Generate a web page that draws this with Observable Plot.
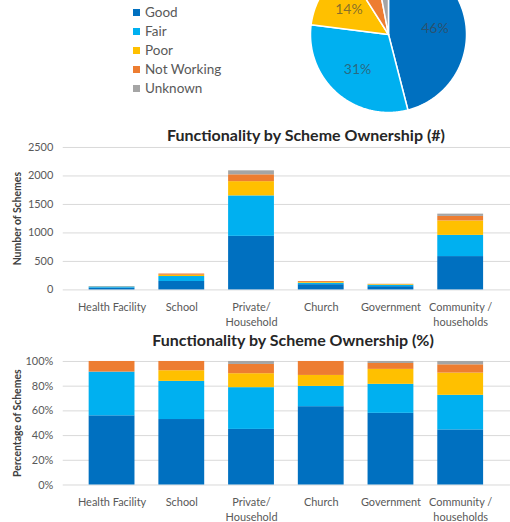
<!DOCTYPE html>
<html>
<head>
<meta charset="utf-8">
<script src="https://cdn.jsdelivr.net/npm/d3@7"></script>
<script src="https://cdn.jsdelivr.net/npm/@observablehq/plot@0.6"></script>
<style>
  html, body { margin: 0; padding: 0; background: #fff; }
  body { width: 510px; height: 522px; overflow: hidden; position: relative; font-family: Lato, "Open Sans", sans-serif; }
  .abs { position: absolute; }
  .title { position: absolute; white-space: nowrap; font-weight: bold; font-size: 16px; line-height: 18px; color: #262626; transform: translateX(-50%); }
  .legend-row { display: flex; align-items: center; height: 19px; font-size: 13.5px; color: #595959; }
  .swatch { width: 7px; height: 7px; margin-right: 5px; }
</style>
</head>
<body>
<div id="legend" class="abs" style="left:133px; top:2.5px;"></div>
<div id="pie" class="abs" style="left:303px; top:-51px;"></div>
<div class="title" style="left:306px; top:126px;">Functionality by Scheme Ownership (#)</div>
<div id="bar1" class="abs" style="left:0; top:140px;"></div>
<div class="title" style="left:293px; top:331px;">Functionality by Scheme Ownership (%)</div>
<div id="bar2" class="abs" style="left:0; top:355px;"></div>
<script>
// ---------- data ----------
const owners = ["Health Facility", "School", "Private/\nHousehold", "Church", "Government", "Community /\nhouseholds"];
const statuses = ["Good", "Fair", "Poor", "Not Working", "Unknown"];
const statusColors = ["#0070c0", "#00b0f0", "#ffc000", "#ed7d31", "#a5a5a5"];

// counts (#)
const countGood       = [32, 148, 940, 92, 57, 585];
const countFair       = [20,  87, 710, 25, 23, 372];
const countPoor       = [ 0,  22, 250, 13, 12, 253];
const countNotWorking = [ 5,  22, 120, 16,  5,  80];
const countUnknown    = [ 0,   0,  70,  0,  2,  40];

// percentages (%)
const pctGood       = [56.0, 53.0, 45.0, 63.4, 58.0, 44.6];
const pctFair       = [35.4, 30.9, 33.8, 16.4, 23.5, 28.0];
const pctPoor       = [ 0.0,  8.6, 11.3,  8.9, 12.1, 18.0];
const pctNotWorking = [ 8.6,  7.5,  7.5, 11.3,  4.8,  6.7];
const pctUnknown    = [ 0.0,  0.0,  2.4,  0.0,  1.6,  2.7];

// overall pie
const pieShare  = [46, 31, 14, 6, 3];
const pieLabels = ["46%", "31%", "14%", "", ""];

const countTicks = [0, 500, 1000, 1500, 2000, 2500];
const pctTicks = [0, 20, 40, 60, 80, 100];

// ---------- tables ----------
const countCols = [countGood, countFair, countPoor, countNotWorking, countUnknown];
const pctCols = [pctGood, pctFair, pctPoor, pctNotWorking, pctUnknown];
const countRows = owners.flatMap((o, i) => statuses.map((s, j) => ({owner: o, status: s, value: countCols[j][i]})));
const pctRows = owners.flatMap((o, i) => statuses.map((s, j) => ({owner: o, status: s, value: pctCols[j][i]})));

// ---------- legend ----------
const legend = document.getElementById("legend");
statuses.forEach((s, i) => {
  const row = document.createElement("div");
  row.className = "legend-row";
  const sw = document.createElement("div");
  sw.className = "swatch";
  sw.style.background = statusColors[i];
  const t = document.createElement("span");
  t.textContent = s;
  row.appendChild(sw); row.appendChild(t);
  legend.appendChild(row);
});

// ---------- pie ----------
const R = 78;
const arcs = d3.pie().sort(null).value(d => d)(pieShare);
const pieRows = arcs.flatMap((p, i) => {
  const pts = [{status: statuses[i], x: 0, y: 0}];
  const n = Math.max(2, Math.ceil((p.endAngle - p.startAngle) / 0.01));
  for (let k = 0; k <= n; k++) {
    const a = p.startAngle + (p.endAngle - p.startAngle) * k / n;
    pts.push({status: statuses[i], x: R * Math.sin(a), y: -R * Math.cos(a)});
  }
  pts.push({status: statuses[i], x: 0, y: 0});
  return pts;
});
const labelRows = arcs.map((p, i) => {
  const m = (p.startAngle + p.endAngle) / 2;
  return {text: pieLabels[i], x: 0.6 * R * Math.sin(m), y: -0.6 * R * Math.cos(m)};
}).filter(d => d.text);

document.getElementById("pie").appendChild(Plot.plot({
  width: 170, height: 170, margin: 0,
  style: {fontFamily: "Lato, sans-serif", background: "transparent"},
  x: {domain: [-85, 85], range: [0, 170], axis: null},
  y: {domain: [-85, 85], range: [0, 170], axis: null},
  color: {domain: statuses, range: statusColors},
  marks: [
    Plot.line(pieRows, {x: "x", y: "y", z: "status", fill: "status", stroke: "white", strokeWidth: 1.5, strokeLinejoin: "round"}),
    Plot.text(labelRows, {x: "x", y: "y", text: "text", fontSize: 14, fill: "#404040", fillOpacity: 0.65})
  ]
}));

// ---------- bar charts ----------
function barChart(rows, {domain, ticks, fmt, yLabel, height, marginTop, marginBottom}) {
  return Plot.plot({
    width: 512, height, marginLeft: 63, marginRight: 0, marginTop, marginBottom,
    style: {fontFamily: "Lato, sans-serif", color: "#595959", background: "transparent"},
    x: {domain: owners, padding: 0.34},
    y: {domain},
    color: {domain: statuses, range: statusColors},
    marks: [
      Plot.gridY(ticks, {stroke: "#d9d9d9", strokeOpacity: 1}),
      Plot.barY(rows, {x: "owner", y: "value", fill: "status"}),
      Plot.axisY(ticks, {tickSize: 0, tickPadding: 10, fontSize: 11, tickFormat: fmt, label: null}),
      Plot.axisX({tickSize: 0, tickPadding: 11, fontSize: 11, lineHeight: 1.32, label: null}),
      Plot.text([yLabel], {text: d => d, frameAnchor: "left", textAnchor: "middle", dx: -46, rotate: -90, fontWeight: "bold", fontSize: 10.5, fill: "#404040"})
    ]
  });
}

document.getElementById("bar1").appendChild(barChart(countRows, {
  domain: [0, 2500], ticks: countTicks, fmt: d => String(d), yLabel: "Number of Schemes",
  height: 190, marginTop: 7, marginBottom: 40
}));

document.getElementById("bar2").appendChild(barChart(pctRows, {
  domain: [0, 100], ticks: pctTicks, fmt: d => d + "%", yLabel: "Percentage of Schemes",
  height: 167, marginTop: 6, marginBottom: 37
}));
</script>
</body>
</html>
